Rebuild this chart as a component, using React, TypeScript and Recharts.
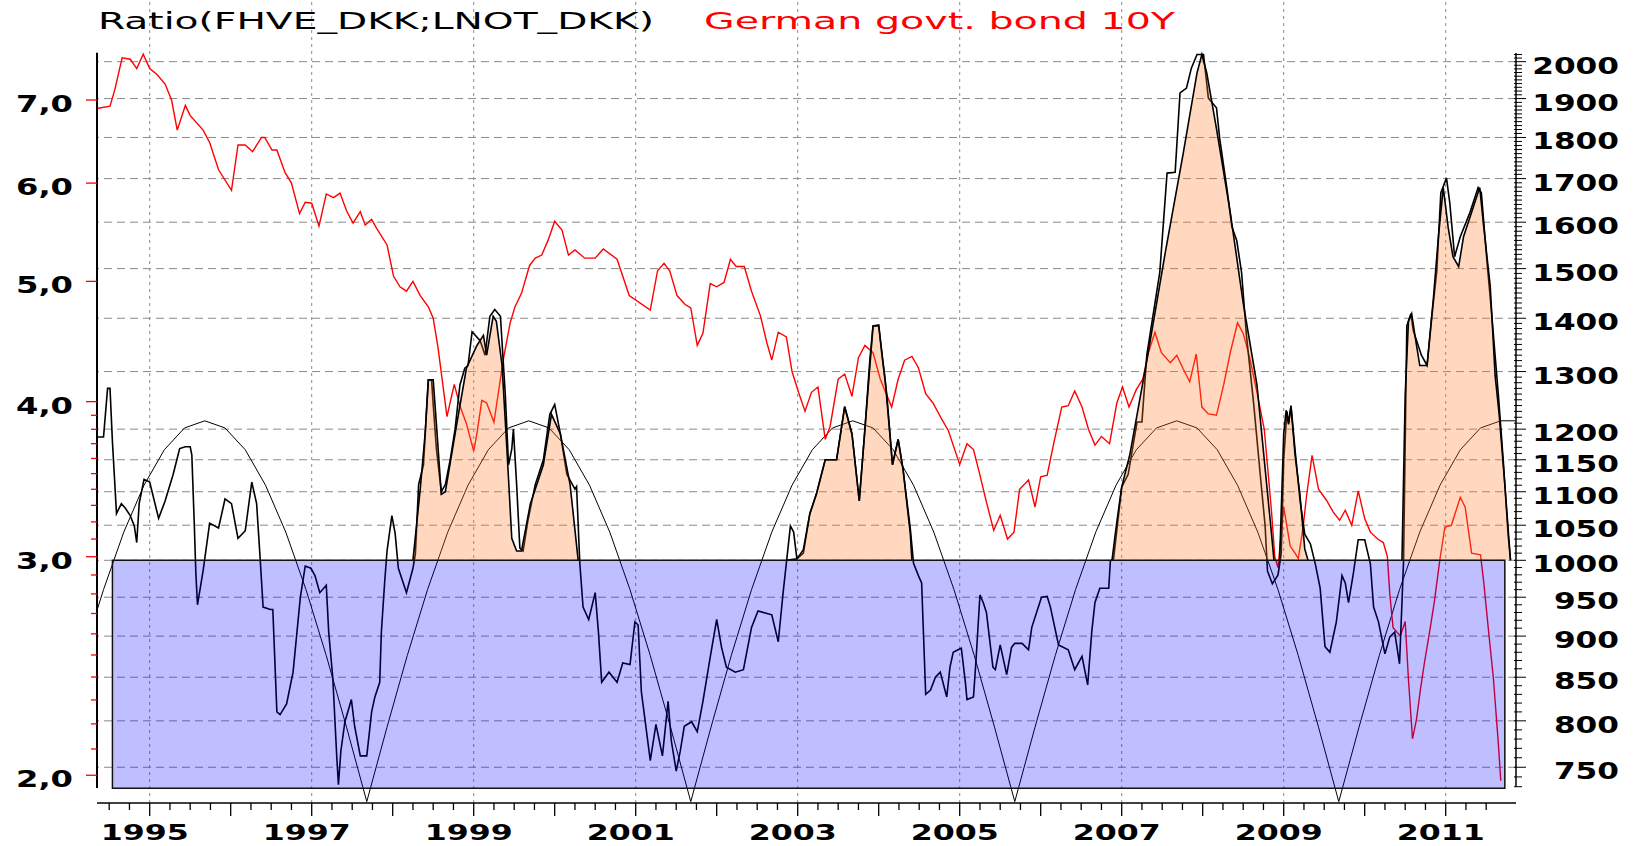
import React from 'react';
import { ComposedChart, Line, Area, XAxis, YAxis, ReferenceLine, ReferenceArea } from 'recharts';

// ---------- data (year, value) ----------
// Ratio FHVE_DKK / LNOT_DKK (right axis)
const ratioPoints: [number, number][] = [
  [1994.35,1187],[1994.43,1187],[1994.48,1270],[1994.51,1270],[1994.54,1179],[1994.59,1067],[1994.65,1082],[1994.70,1075],[1994.76,1064],[1994.81,1049],[1994.84,1025],[1994.87,1082],[1994.93,1119],[1995.00,1115],[1995.11,1060],[1995.19,1086],[1995.29,1127],[1995.37,1168],[1995.44,1171],[1995.50,1171],[1995.52,1158],[1995.55,1053],[1995.57,982],[1995.59,940],[1995.66,986],[1995.74,1053],[1995.85,1046],[1995.93,1089],[1996.01,1082],[1996.09,1031],[1996.18,1042],[1996.26,1115],[1996.32,1082],[1996.36,1009],[1996.40,937],[1996.49,934],[1996.52,934],[1996.57,810],[1996.61,807],[1996.69,819],[1996.77,856],[1996.86,950],[1996.92,992],[1996.99,989],[1997.04,979],[1997.10,956],[1997.18,966],[1997.21,905],[1997.26,850],[1997.31,760],[1997.33,732],[1997.36,767],[1997.41,799],[1997.49,824],[1997.53,794],[1997.60,762],[1997.68,762],[1997.74,810],[1997.78,827],[1997.84,844],[1997.86,905],[1997.90,969],[1997.93,1013],[1997.99,1064],[1998.03,1038],[1998.07,989],[1998.17,956],[1998.25,989],[1998.28,1009],[1998.32,1111],[1998.38,1142],[1998.44,1285],[1998.48,1285],[1998.50,1242],[1998.54,1167],[1998.60,1100],[1998.65,1111],[1998.71,1150],[1998.77,1200],[1998.83,1276],[1998.89,1306],[1998.93,1311],[1998.98,1374],[1999.08,1357],[1999.14,1330],[1999.20,1404],[1999.26,1417],[1999.33,1404],[1999.39,1259],[1999.43,1142],[1999.47,1167],[1999.49,1200],[1999.53,1111],[1999.57,1017],[1999.61,1013],[1999.67,1057],[1999.76,1111],[1999.86,1150],[1999.94,1225],[2000.00,1242],[2000.07,1192],[2000.15,1127],[2000.25,1104],[2000.27,1108],[2000.31,996],[2000.35,937],[2000.42,921],[2000.50,956],[2000.54,905],[2000.58,844],[2000.67,856],[2000.77,844],[2000.84,867],[2000.93,865],[2000.99,918],[2001.03,914],[2001.07,833],[2001.18,757],[2001.25,796],[2001.33,762],[2001.40,822],[2001.44,778],[2001.50,746],[2001.55,767],[2001.60,794],[2001.69,799],[2001.76,788],[2001.83,822],[2001.92,874],[2002.00,921],[2002.06,886],[2002.12,862],[2002.23,856],[2002.33,859],[2002.43,911],[2002.51,932],[2002.68,927],[2002.76,893],[2002.82,956],[2002.86,996],[2002.91,1049],[2002.95,1040],[2002.99,1002],[2003.07,1010],[2003.15,1067],[2003.23,1096],[2003.34,1150],[2003.48,1150],[2003.58,1238],[2003.67,1192],[2003.76,1086],[2003.83,1200],[2003.89,1320],[2003.93,1385],[2004.00,1387],[2004.04,1330],[2004.10,1259],[2004.17,1142],[2004.24,1183],[2004.30,1135],[2004.39,1045],[2004.43,996],[2004.49,979],[2004.53,969],[2004.58,830],[2004.64,835],[2004.70,850],[2004.76,856],[2004.84,827],[2004.88,862],[2004.92,880],[2004.98,883],[2005.02,885],[2005.07,844],[2005.09,824],[2005.17,827],[2005.20,868],[2005.25,953],[2005.29,943],[2005.33,930],[2005.41,862],[2005.44,859],[2005.50,889],[2005.58,853],[2005.64,886],[2005.68,891],[2005.77,891],[2005.85,883],[2005.89,911],[2005.93,924],[2006.01,950],[2006.08,951],[2006.12,937],[2006.22,889],[2006.34,883],[2006.42,859],[2006.51,875],[2006.58,841],[2006.63,905],[2006.67,943],[2006.73,962],[2006.84,962],[2006.86,999],[2006.90,1002],[2007.00,1107],[2007.08,1127],[2007.19,1212],[2007.25,1212],[2007.31,1330],[2007.47,1492],[2007.56,1713],[2007.66,1715],[2007.72,1915],[2007.80,1928],[2007.86,1982],[2007.93,2020],[2008.01,2020],[2008.07,1901],[2008.17,1876],[2008.21,1797],[2008.30,1675],[2008.36,1590],[2008.42,1560],[2008.48,1492],[2008.54,1367],[2008.63,1242],[2008.71,1127],[2008.77,1050],[2008.80,985],[2008.86,968],[2008.93,980],[2008.97,1010],[2009.00,1150],[2009.04,1230],[2009.06,1210],[2009.09,1240],[2009.14,1166],[2009.20,1088],[2009.26,1037],[2009.33,1023],[2009.39,995],[2009.45,962],[2009.51,887],[2009.57,880],[2009.65,918],[2009.72,979],[2009.76,969],[2009.80,943],[2009.86,982],[2009.92,1029],[2010.00,1029],[2010.07,995],[2010.11,937],[2010.17,918],[2010.25,878],[2010.31,899],[2010.37,905],[2010.43,866],[2010.46,943],[2010.48,1000],[2010.52,1385],[2010.57,1409],[2010.60,1376],[2010.70,1330],[2010.77,1311],[2010.83,1404],[2010.89,1495],[2010.94,1667],[2011.01,1701],[2011.05,1644],[2011.11,1525],[2011.18,1568],[2011.30,1622],[2011.40,1679],[2011.44,1667],[2011.51,1514],[2011.57,1404],[2011.65,1259],[2011.71,1150],[2011.77,1037],[2011.80,1000],
];

// German govt. bond 10Y yield, % (left axis)
const bondPoints: [number, number][] = [
  [1994.35,6.89],[1994.51,6.92],[1994.57,7.14],[1994.66,7.57],[1994.76,7.55],[1994.84,7.42],[1994.92,7.62],[1995.00,7.42],[1995.09,7.34],[1995.19,7.21],[1995.27,7.00],[1995.34,6.62],[1995.44,6.93],[1995.50,6.80],[1995.66,6.62],[1995.74,6.47],[1995.85,6.15],[1996.01,5.92],[1996.09,6.44],[1996.18,6.44],[1996.27,6.36],[1996.38,6.53],[1996.42,6.53],[1996.51,6.38],[1996.57,6.38],[1996.67,6.12],[1996.75,6.00],[1996.85,5.67],[1996.92,5.79],[1997.00,5.78],[1997.09,5.54],[1997.18,5.88],[1997.27,5.84],[1997.35,5.89],
  [1997.43,5.70],[1997.51,5.57],[1997.60,5.69],[1997.66,5.55],[1997.74,5.61],[1997.80,5.52],[1997.93,5.35],[1998.01,5.05],[1998.09,4.95],[1998.17,4.91],[1998.25,5.00],[1998.34,4.87],[1998.44,4.77],[1998.50,4.67],[1998.56,4.42],[1998.67,3.89],[1998.76,4.13],[1998.83,3.97],[1998.91,3.84],[1999.00,3.65],[1999.04,3.77],[1999.10,4.01],[1999.16,3.99],[1999.25,3.85],[1999.32,4.13],[1999.37,4.34],[1999.45,4.63],[1999.51,4.77],[1999.59,4.89],[1999.69,5.15],[1999.76,5.22],[1999.84,5.25],[1999.92,5.40],[2000.00,5.59],[2000.09,5.50],[2000.17,5.25],[2000.25,5.30],[2000.31,5.26],
  [2000.37,5.22],[2000.50,5.22],[2000.60,5.31],[2000.77,5.21],[2000.92,4.87],[2001.18,4.74],[2001.27,5.10],[2001.35,5.17],[2001.42,5.10],[2001.51,4.87],[2001.61,4.79],[2001.68,4.76],[2001.76,4.44],[2001.83,4.54],[2001.92,4.98],[2002.00,4.95],[2002.09,4.99],[2002.17,5.21],[2002.24,5.14],[2002.34,5.14],[2002.43,4.91],[2002.54,4.69],[2002.62,4.46],[2002.68,4.32],[2002.76,4.55],[2002.86,4.51],[2002.93,4.23],[2003.01,4.07],[2003.09,3.93],[2003.17,4.07],[2003.25,4.11],
  [2003.34,3.73],[2003.40,3.82],[2003.50,4.17],[2003.58,4.21],[2003.67,4.04],[2003.75,4.34],[2003.83,4.44],[2003.93,4.38],[2004.02,4.17],[2004.16,3.96],[2004.24,4.17],[2004.32,4.32],[2004.41,4.35],[2004.49,4.26],[2004.58,4.06],[2004.67,3.99],[2004.78,3.87],[2004.86,3.79],[2005.00,3.56],[2005.09,3.70],[2005.17,3.66],[2005.25,3.49],[2005.33,3.32],[2005.42,3.15],[2005.50,3.24],[2005.59,3.10],[2005.67,3.14],[2005.74,3.40],[2005.85,3.46],[2005.93,3.29],[2006.00,3.48],[2006.08,3.49],[2006.16,3.70],[2006.26,3.96],
  [2006.34,3.97],[2006.42,4.08],[2006.51,3.96],[2006.59,3.80],[2006.67,3.69],[2006.75,3.75],[2006.85,3.70],[2006.94,3.99],[2007.01,4.11],[2007.09,3.96],[2007.18,4.09],[2007.26,4.17],[2007.33,4.38],[2007.41,4.55],[2007.49,4.38],[2007.60,4.30],[2007.68,4.36],[2007.76,4.25],[2007.84,4.15],[2007.92,4.37],[2007.99,3.96],[2008.07,3.91],[2008.17,3.90],[2008.26,4.13],[2008.34,4.38],[2008.43,4.63],[2008.50,4.54],[2008.58,4.34],[2008.67,4.07],[2008.76,3.80],[2008.81,3.49],[2008.85,3.26],[2008.89,3.00],[2008.93,2.94],[2009.00,3.29],[2009.08,3.06],[2009.14,3.02],
  [2009.18,2.99],[2009.24,3.17],[2009.28,3.35],[2009.35,3.62],[2009.43,3.40],[2009.53,3.33],[2009.61,3.26],[2009.69,3.21],[2009.76,3.27],[2009.84,3.18],[2009.92,3.39],[2010.00,3.22],[2010.07,3.14],[2010.16,3.10],[2010.23,3.08],[2010.28,3.00],[2010.31,2.80],[2010.35,2.63],[2010.44,2.59],[2010.50,2.66],[2010.54,2.39],[2010.59,2.14],[2010.64,2.22],[2010.69,2.35],[2010.74,2.47],[2010.81,2.63],[2010.86,2.76],[2010.93,2.99],[2010.99,3.17],[2011.07,3.18],[2011.18,3.35],[2011.24,3.29],[2011.32,3.02],[2011.43,3.01],[2011.47,2.86],[2011.53,2.61],[2011.59,2.39],[2011.65,2.12],[2011.68,1.98],
];

// four-year cycle curve (right axis)
const cyclePoints: [number, number][] = [
  [1994.35,933],[1994.43,960],[1994.68,1040],[1994.93,1110],[1995.18,1166],[1995.43,1202],[1995.68,1214],[1995.93,1202],[1996.18,1166],[1996.43,1110],[1996.68,1040],[1996.93,960],[1997.18,876],[1997.43,793],[1997.68,715],
  [1997.93,793],[1998.18,876],[1998.43,960],[1998.68,1040],[1998.93,1110],[1999.18,1166],[1999.43,1202],[1999.68,1214],[1999.93,1202],[2000.18,1166],[2000.43,1110],[2000.68,1040],[2000.93,960],[2001.18,876],[2001.43,793],[2001.68,715],
  [2001.93,793],[2002.18,876],[2002.43,960],[2002.68,1040],[2002.93,1110],[2003.18,1166],[2003.43,1202],[2003.68,1214],[2003.93,1202],[2004.18,1166],[2004.43,1110],[2004.68,1040],[2004.93,960],[2005.18,876],[2005.43,793],[2005.68,715],
  [2005.93,793],[2006.18,876],[2006.43,960],[2006.68,1040],[2006.93,1110],[2007.18,1166],[2007.43,1202],[2007.68,1214],[2007.93,1202],[2008.18,1166],[2008.43,1110],[2008.68,1040],[2008.93,960],[2009.18,876],[2009.43,793],[2009.68,715],
  [2009.93,793],[2010.18,876],[2010.43,960],[2010.68,1040],[2010.93,1110],[2011.18,1166],[2011.43,1202],[2011.68,1214],[2011.86,1214],
];

// shaded peaks above 1000 (right axis)
const peak1998: [number, number][] = [[1998.25,1000],[1998.34,1104],[1998.40,1192],[1998.44,1285],[1998.50,1285],[1998.54,1208],[1998.60,1096],[1998.65,1100],[1998.79,1208],[1998.91,1306],[1999.04,1348],[1999.12,1367],[1999.16,1330],[1999.24,1404],[1999.28,1394],[1999.35,1311],[1999.41,1167],[1999.47,1031],[1999.53,1013],[1999.59,1013],[1999.70,1082],[1999.80,1119],[1999.86,1142],[1999.96,1225],[2000.07,1192],[2000.19,1111],[2000.29,1000]];
const peak2003: [number, number][] = [[2002.86,1000],[2002.99,1002],[2003.07,1015],[2003.15,1067],[2003.23,1096],[2003.34,1150],[2003.48,1150],[2003.58,1238],[2003.67,1192],[2003.76,1086],[2003.83,1200],[2003.93,1385],[2004.00,1385],[2004.08,1285],[2004.17,1142],[2004.24,1183],[2004.30,1135],[2004.39,1038],[2004.41,1000]];
const peak2007: [number, number][] = [[2006.88,1000],[2006.94,1055],[2007.00,1107],[2007.10,1158],[2007.31,1320],[2007.54,1536],[2007.76,1761],[2007.93,1969],[2007.99,2020],[2008.05,1969],[2008.17,1822],[2008.34,1622],[2008.50,1430],[2008.67,1276],[2008.79,1111],[2008.85,1037],[2008.88,1000]];
const peak2009: [number, number][] = [[2008.95,1000],[2009.00,1192],[2009.03,1232],[2009.06,1208],[2009.09,1238],[2009.14,1158],[2009.20,1096],[2009.26,1016],[2009.30,1000]];
const peak2011: [number, number][] = [[2010.46,1000],[2010.50,1259],[2010.54,1394],[2010.58,1409],[2010.62,1367],[2010.68,1311],[2010.77,1311],[2010.85,1443],[2010.91,1568],[2010.97,1679],[2011.03,1589],[2011.09,1525],[2011.16,1504],[2011.22,1568],[2011.32,1622],[2011.42,1679],[2011.47,1589],[2011.55,1463],[2011.61,1293],[2011.66,1225],[2011.73,1111],[2011.80,1000]];
const peaks = [peak1998, peak2003, peak2007, peak2009, peak2011];

// band below 1000: [from year, to year, low, high]
const blueBand = [1994.54, 2011.73, 728.4, 1000];

// ticks
const leftLabelTicks = [2, 3, 4, 5, 6, 7];
const leftMinorTicks = [2.1, 2.2, 2.3, 2.4, 2.5, 2.6, 2.7, 2.8, 2.9, 3.1, 3.2, 3.3, 3.4, 3.5, 3.6, 3.7, 3.8, 3.9];
const rightLabelTicks = [750, 800, 850, 900, 950, 1000, 1050, 1100, 1150, 1200, 1300, 1400, 1500, 1600, 1700, 1800, 1900, 2000];
const yearLabels = [1995, 1997, 1999, 2001, 2003, 2005, 2007, 2009, 2011];

// ---------- layout ----------
const W = 1634;
const H = 846;
const X_DOMAIN: [number, number] = [1994.3494, 2011.8679];
const LEFT_DOMAIN: [number, number] = [1.8997, 8.4272];
const RIGHT_DOMAIN: [number, number] = [713.65, 2179];
const FONT = '"DejaVu Sans", Verdana, sans-serif';

const rightMinorTicks = Array.from({ length: 130 }, (_, i) => 730 + i * 10).filter((v) => !rightLabelTicks.includes(v));
const rightTicks = [...rightMinorTicks, ...rightLabelTicks].sort((a, b) => a - b);
const leftTicks = [...leftMinorTicks, ...leftLabelTicks].sort((a, b) => a - b);
const quarterTicks = Array.from({ length: 69 }, (_, i) => 1994.5 + i * 0.25);

const rows = (pts: [number, number][]) => pts.map(([t, v]) => ({ t, v }));

const LeftTick = (props: any) => {
  const { x, y, payload } = props;
  const v = payload.value as number;
  const major = leftLabelTicks.includes(v);
  return (
    <g>
      <line x1={x - (major ? 11 : 6)} x2={x} y1={y} y2={y} stroke="#ff0000" strokeWidth={1.3} />
      {major && (
        <text x={x - 24} y={y + 12} textAnchor="end" fontFamily={FONT} fontWeight="bold" fontSize={23}
          textLength={57} lengthAdjust="spacingAndGlyphs" fill="#000">
          {v.toFixed(1).replace('.', ',')}
        </text>
      )}
    </g>
  );
};

const RightTick = (props: any) => {
  const { x, y, payload } = props;
  const v = payload.value as number;
  const major = rightLabelTicks.includes(v);
  const s = String(v);
  return (
    <g>
      <line x1={x - 2} x2={x + (major ? 10 : 6)} y1={y} y2={y} stroke="#000" strokeWidth={1} />
      {major && (
        <text x={x + 103} y={y + 12} textAnchor="end" fontFamily={FONT} fontWeight="bold" fontSize={23}
          textLength={s.length * 21.7} lengthAdjust="spacingAndGlyphs" fill="#000">
          {s}
        </text>
      )}
    </g>
  );
};

const XTick = (props: any) => {
  const { x, y, payload } = props;
  const v = payload.value as number;
  const isYear = Math.abs(v - Math.round(v)) < 1e-6;
  const label = isYear && yearLabels.includes(Math.round(v));
  return (
    <g>
      <line x1={x} x2={x} y1={y} y2={y + (isYear ? 13 : 7)} stroke="#000" strokeWidth={1.3} />
      {label && (
        <text x={x - 5} y={y + 37} textAnchor="middle" fontFamily={FONT} fontWeight="bold" fontSize={21}
          textLength={88} lengthAdjust="spacingAndGlyphs" fill="#000">
          {Math.round(v)}
        </text>
      )}
    </g>
  );
};

export default function App() {
  return (
    <div style={{ position: 'absolute', left: 0, top: 0, width: W, height: H, background: '#fff' }}>
      <ComposedChart width={W} height={H} margin={{ top: 0, right: 0, bottom: 0, left: 0 }}>
        <XAxis dataKey="t" type="number" domain={X_DOMAIN} allowDataOverflow ticks={quarterTicks} interval={0}
          tick={(p: any) => <XTick {...p} />} tickLine={false} tickSize={0} tickMargin={0} height={43}
          axisLine={{ stroke: '#000', strokeWidth: 1.3 }} />
        <YAxis yAxisId="left" orientation="left" scale="log" domain={LEFT_DOMAIN} allowDataOverflow ticks={leftTicks}
          interval={0} width={97} axisLine={false} tickLine={false} tickSize={0} tickMargin={0}
          tick={(p: any) => <LeftTick {...p} />} />
        <YAxis yAxisId="right" orientation="right" scale="log" domain={RIGHT_DOMAIN} allowDataOverflow ticks={rightTicks}
          interval={0} width={118} axisLine={false} tickLine={false} tickSize={0} tickMargin={0}
          tick={(p: any) => <RightTick {...p} />} />

        {yearLabels.map((yr) => (
          <ReferenceLine key={'vg' + yr} x={yr} yAxisId="right" stroke="#8a8a8a" strokeWidth={1} strokeDasharray="3 4" zIndex={-50} />
        ))}
        {rightLabelTicks.map((v) => (
          <ReferenceLine key={'hg' + v} y={v} yAxisId="right" stroke="#8a8a8a" strokeWidth={1} strokeDasharray="8 5" zIndex={-50} />
        ))}

        <Line data={rows(cyclePoints)} dataKey="v" yAxisId="right" stroke="#000" strokeWidth={1} dot={false} activeDot={false} isAnimationActive={false} zIndex={100} />
        <Line data={rows(bondPoints)} dataKey="v" yAxisId="left" stroke="#ff0000" strokeWidth={1.4} dot={false} activeDot={false} isAnimationActive={false} zIndex={100} />
        <Line data={rows(ratioPoints)} dataKey="v" yAxisId="right" stroke="#000" strokeWidth={1.6} dot={false} activeDot={false} isAnimationActive={false} zIndex={100} />

        {peaks.map((seg, i) => (
          <Area key={'pk' + i} data={rows(seg)} dataKey="v" yAxisId="right" baseValue={1000} fill="#ff7f2a" fillOpacity={0.3}
            stroke="#000" strokeWidth={1.6} dot={false} activeDot={false} isAnimationActive={false} zIndex={200} />
        ))}

        <ReferenceArea x1={blueBand[0]} x2={blueBand[1]} y1={blueBand[2]} y2={blueBand[3]} yAxisId="right"
          fill="#0000ff" fillOpacity={0.25} stroke="#111" strokeWidth={1.5} ifOverflow="visible" zIndex={250} />

        <ReferenceLine yAxisId="left" ifOverflow="visible" stroke="#000" strokeWidth={2}
          segment={[{ x: X_DOMAIN[0], y: 7.64 }, { x: X_DOMAIN[0], y: 1.953 }]} zIndex={600} />
        <ReferenceLine yAxisId="right" ifOverflow="visible" stroke="#000" strokeWidth={1.5}
          segment={[{ x: X_DOMAIN[1], y: 2024 }, { x: X_DOMAIN[1], y: 730 }]} zIndex={600} />
      </ComposedChart>
      <svg width={W} height={50} style={{ position: 'absolute', left: 0, top: 0, pointerEvents: 'none' }}>
        <text x={98} y={29} fontFamily={FONT} fontSize={23} textLength={556} lengthAdjust="spacingAndGlyphs" fill="#000">
          Ratio(FHVE_DKK;LNOT_DKK)
        </text>
        <text x={704} y={29} fontFamily={FONT} fontSize={23} textLength={471} lengthAdjust="spacingAndGlyphs" fill="#ff0000">
          German govt. bond 10Y
        </text>
      </svg>
    </div>
  );
}
